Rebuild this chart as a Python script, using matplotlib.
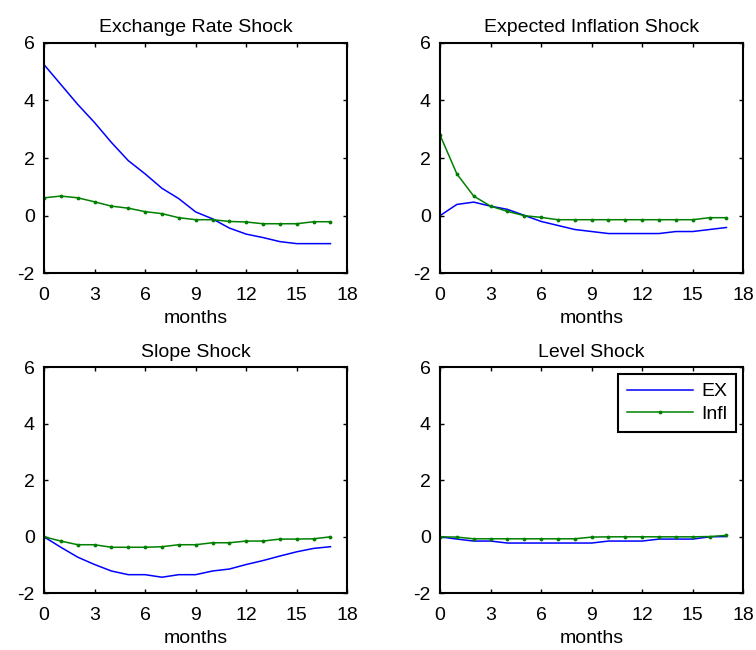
import numpy as np
import matplotlib.pyplot as plt

plt.rcParams['font.family'] = ['Liberation Sans', 'DejaVu Sans']
plt.rcParams['font.size'] = 14
plt.rcParams['axes.unicode_minus'] = False

months = np.arange(18)

titles = ['Exchange Rate Shock', 'Expected Inflation Shock', 'Slope Shock', 'Level Shock']

ex_resp = [
    [5.24, 4.55, 3.86, 3.23, 2.54, 1.91, 1.45, 0.95, 0.59, 0.13, -0.11, -0.43,
     -0.64, -0.76, -0.90, -0.97, -0.97, -0.97],
    [0.0, 0.39, 0.47, 0.33, 0.22, 0.01, -0.20, -0.34, -0.48, -0.55, -0.62, -0.62,
     -0.62, -0.62, -0.55, -0.55, -0.48, -0.41],
    [0.0, -0.37, -0.72, -0.98, -1.21, -1.34, -1.34, -1.43, -1.34, -1.34, -1.21, -1.14,
     -0.98, -0.84, -0.68, -0.53, -0.41, -0.35],
    [0.0, -0.08, -0.15, -0.15, -0.22, -0.22, -0.22, -0.22, -0.22, -0.22, -0.15, -0.15,
     -0.15, -0.08, -0.08, -0.08, 0.0, 0.01],
]
infl_resp = [
    [0.62, 0.68, 0.62, 0.48, 0.33, 0.26, 0.14, 0.07, -0.07, -0.14, -0.14, -0.20,
     -0.22, -0.28, -0.28, -0.28, -0.21, -0.21],
    [2.80, 1.45, 0.68, 0.33, 0.15, 0.0, -0.06, -0.14, -0.14, -0.14, -0.14, -0.14,
     -0.14, -0.14, -0.14, -0.14, -0.07, -0.07],
    [0.0, -0.15, -0.28, -0.28, -0.37, -0.37, -0.37, -0.35, -0.28, -0.28, -0.21, -0.21,
     -0.15, -0.15, -0.08, -0.08, -0.07, 0.0],
    [0.0, -0.01, -0.07, -0.07, -0.07, -0.07, -0.07, -0.07, -0.07, -0.01, 0.0, 0.0,
     0.0, 0.0, 0.0, 0.0, 0.01, 0.05],
]

fig = plt.figure(figsize=(7.56, 6.5), dpi=100)
# axes boxes in figure fractions (MATLAB-like subplot layout)
boxes = [
    [0.0582, 0.5795, 0.4012, 0.3548],
    [0.5820, 0.5795, 0.4012, 0.3548],
    [0.0582, 0.0872, 0.4012, 0.3477],
    [0.5820, 0.0872, 0.4012, 0.3477],
]

for i in range(4):
    ax = fig.add_axes(boxes[i])
    ax.plot(months, ex_resp[i], color=(0, 0, 1), lw=1.1, label='EX')
    ax.plot(months, infl_resp[i], color=(0, 0.5, 0), lw=1.1, marker='.',
            markersize=3.5, label='Infl')
    ax.set_xlim(0, 18)
    ax.set_ylim(-2, 6)
    ax.set_xticks(np.arange(0, 19, 3))
    ax.set_yticks(np.arange(-2, 7, 2))
    ax.tick_params(direction='in', top=True, right=True, length=3, width=1)
    ax.tick_params(axis='x', pad=9.5)
    ax.tick_params(axis='y', pad=6.5)
    for s in ax.spines.values():
        s.set_linewidth(1.5)
    ax.set_title(titles[i], fontsize=14, pad=7.5)
    ax.set_xlabel('months', labelpad=4.5)
    if i == 3:
        leg = ax.legend(loc='upper right', fancybox=False, edgecolor='black',
                        framealpha=1, borderaxespad=0.35, handlelength=3.4,
                        borderpad=0.45, labelspacing=0.25, handletextpad=0.45)
        leg.get_frame().set_linewidth(1.5)

plt.savefig('out.png', dpi=100)
